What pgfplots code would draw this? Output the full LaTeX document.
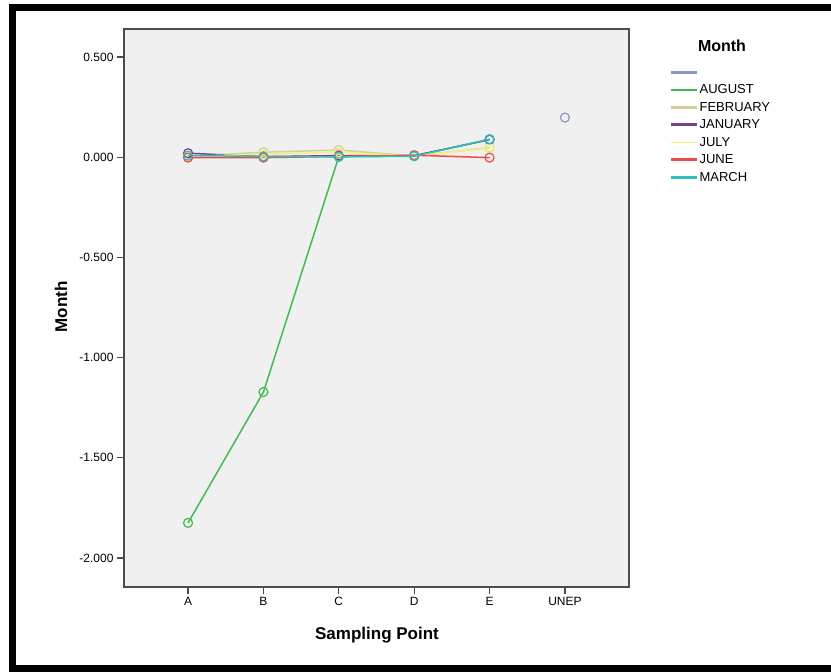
\documentclass[border=0pt]{standalone}
\usepackage{fontspec}
\setmainfont{Liberation Sans}
\usepackage{pgfplots}
\pgfplotsset{compat=1.18}
\definecolor{bggray}{HTML}{F0F0F0}
\definecolor{cblank}{HTML}{8B97CB}
\definecolor{caug}{HTML}{40BC50}
\definecolor{cfeb}{HTML}{D3CF99}
\definecolor{cjan}{HTML}{7B3F8C}
\definecolor{cjul}{HTML}{F5F27A}
\definecolor{cjun}{HTML}{EE4B4B}
\definecolor{cmar}{HTML}{2EBFBF}
\begin{document}
\begin{tikzpicture}[x=1pt,y=1pt]
\path[use as bounding box] (0,0) rectangle (831,672);
% frame
\fill[black] (9,0) rectangle (16,668);
\fill[black] (9,661) rectangle (831,668);
\fill[black] (9,0) rectangle (831,7);
\begin{axis}[
  at={(124pt,85pt)}, anchor=south west,
  scale only axis, width=505pt, height=558pt,
  xmin=-0.85, xmax=5.85, ymin=-2.145, ymax=0.64,
  xtick={0,1,2,3,4,5}, xticklabels={A,B,C,D,E,UNEP},
  ytick={-2,-1.5,-1,-0.5,0,0.5},
  yticklabel style={/pgf/number format/fixed, /pgf/number format/fixed zerofill, /pgf/number format/precision=3, /pgf/number format/assume math mode=true},
  ticklabel style={font=\fontsize{12}{14}\selectfont},
  axis background/.style={fill=bggray},
  tick align=outside, tick pos=left, major tick length=7pt,
  tick style={draw=black!70, line width=1.3pt},
  axis line style={draw=black!70, line width=1.5pt},
  legend style={at={(1.079,0.9355)}, anchor=north west, draw=none, fill=none,
    font=\fontsize{13}{15}\selectfont, inner sep=0pt, row sep=3pt,
    nodes={inner sep=1.5pt, text height=9.5pt, text depth=2pt}},
  legend cell align=left,
  legend image post style={line width=3pt},
  legend image code/.code={\draw[#1] (0pt,0pt) -- (26pt,0pt);},
  every axis plot/.append style={line width=1.5pt, mark=o, mark size=4.5pt, mark options={line width=1.2pt, solid}},
]
\addplot[color=cblank] coordinates {(5,0.198)};
\addlegendentry{\phantom{A}}
\addplot[color=caug, legend image post style={line width=1.6pt}] coordinates {(0,-1.825)(1,-1.172)(2,0.003)(3,0.006)(4,0.088)};
\addlegendentry{AUGUST}
\addplot[color=cfeb] coordinates {(0,0.005)(1,0.025)(2,0.036)(3,0.006)(4,0.048)};
\addlegendentry{FEBRUARY}
\addplot[color=cjan] coordinates {(0,0.02)(1,0.003)(2,0.008)(3,0.008)(4,0.088)};
\addlegendentry{JANUARY}
\addplot[color=cjul, legend image post style={line width=1.6pt}] coordinates {(0,0.005)(1,0.015)(2,0.025)(3,0.006)(4,0.045)};
\addlegendentry{JULY}
\addplot[color=cjun] coordinates {(0,-0.002)(1,-0.002)(2,0.004)(3,0.01)(4,-0.002)};
\addlegendentry{JUNE}
\addplot[color=cmar] coordinates {(0,0.008)(1,0.004)(2,0.002)(3,0.005)(4,0.09)};
\addlegendentry{MARCH}
\end{axis}
\node[rotate=90, font=\fontsize{17}{20}\selectfont\bfseries] at (61,365) {Month};
\node[font=\fontsize{17}{20}\selectfont\bfseries] at (377,37) {Sampling Point};
\node[font=\fontsize{16}{19}\selectfont\bfseries] at (722,626) {Month};
\end{tikzpicture}
\end{document}
